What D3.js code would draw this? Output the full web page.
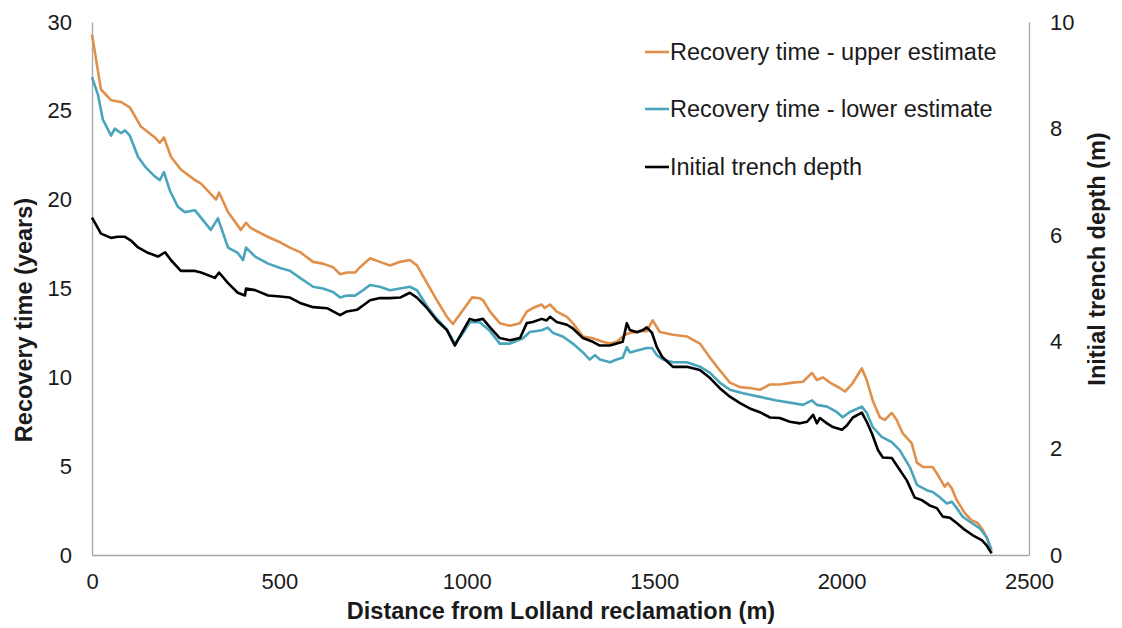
<!DOCTYPE html>
<html>
<head>
<meta charset="utf-8">
<script src="https://cdn.jsdelivr.net/npm/d3@7/dist/d3.min.js"></script>
<style>
  html, body { margin: 0; padding: 0; background: #ffffff; }
  svg { display: block; font-family: "Liberation Sans", Arial, sans-serif; }
</style>
</head>
<body>
<svg id="chart" width="1122" height="628"></svg>
<script>
// Distance along the trench (m) paired with recovery time (years)
const upperEstimate = [
  [0, 29.3], [24, 26.2], [51, 25.6], [77, 25.5], [101, 25.2], [131, 24.1], [168, 23.5], [181, 23.2],
  [192, 23.5], [211, 22.4], [237, 21.7], [275, 21.1], [291, 20.9], [331, 20.0], [339, 20.4], [363, 19.3],
  [397, 18.3], [411, 18.7], [424, 18.4], [470, 17.9], [502, 17.6], [528, 17.3], [555, 17.05], [590, 16.5],
  [616, 16.4], [643, 16.2], [662, 15.8], [680, 15.9], [702, 15.9], [715, 16.2], [742, 16.7], [768, 16.5],
  [795, 16.3], [822, 16.5], [848, 16.6], [867, 16.3], [894, 15.3], [920, 14.35], [947, 13.4], [963, 13.0],
  [987, 13.7], [1014, 14.5], [1035, 14.45], [1043, 14.35], [1062, 13.7], [1088, 13.05], [1115, 12.9],
  [1142, 13.05], [1160, 13.7], [1176, 13.9], [1200, 14.1], [1208, 13.9], [1222, 14.1], [1240, 13.7],
  [1267, 13.4], [1283, 13.05], [1310, 12.3], [1336, 12.2], [1363, 12.0], [1382, 11.9], [1400, 12.0],
  [1422, 12.4], [1435, 12.5], [1462, 12.6], [1480, 12.6], [1496, 13.2], [1515, 12.55], [1550, 12.4],
  [1587, 12.3], [1622, 11.9], [1649, 11.1], [1675, 10.4], [1702, 9.7], [1729, 9.45], [1755, 9.4],
  [1782, 9.3], [1809, 9.6], [1835, 9.6], [1870, 9.7], [1897, 9.75], [1921, 10.25], [1934, 9.85],
  [1950, 10.0], [1969, 9.7], [1995, 9.4], [2009, 9.2], [2027, 9.6], [2054, 10.5], [2067, 9.85],
  [2083, 8.7], [2102, 7.75], [2115, 7.6], [2134, 8.0], [2147, 7.6], [2163, 6.85], [2187, 6.3],
  [2201, 5.2], [2217, 4.95], [2243, 4.95], [2254, 4.6], [2275, 3.85], [2283, 4.05], [2294, 3.75],
  [2307, 3.1], [2329, 2.35], [2347, 1.95], [2363, 1.8], [2377, 1.4], [2390, 0.85], [2400, 0.15]
];

const lowerEstimate = [
  [0, 26.9], [16, 25.9], [29, 24.5], [51, 23.6], [61, 24.0], [77, 23.75], [88, 23.9], [101, 23.6],
  [123, 22.4], [144, 21.8], [168, 21.3], [181, 21.1], [192, 21.55], [208, 20.5], [229, 19.6], [248, 19.3],
  [275, 19.4], [296, 18.85], [317, 18.3], [336, 18.95], [363, 17.3], [389, 17.0], [403, 16.6], [411, 17.3],
  [435, 16.8], [470, 16.4], [502, 16.15], [528, 16.0], [555, 15.6], [590, 15.1], [616, 15.0], [643, 14.8],
  [662, 14.5], [680, 14.6], [702, 14.6], [723, 14.9], [742, 15.2], [768, 15.1], [795, 14.9], [822, 15.0],
  [848, 15.1], [867, 14.9], [894, 14.0], [920, 13.3], [947, 12.7], [968, 11.9], [987, 12.4], [1008, 13.1],
  [1035, 13.1], [1062, 12.6], [1088, 11.9], [1115, 11.9], [1150, 12.2], [1168, 12.55], [1200, 12.65],
  [1216, 12.8], [1230, 12.5], [1256, 12.3], [1283, 11.9], [1310, 11.4], [1328, 11.0], [1342, 11.25],
  [1355, 11.0], [1382, 10.85], [1400, 11.0], [1416, 11.1], [1427, 11.7], [1435, 11.4], [1462, 11.55],
  [1480, 11.65], [1494, 11.65], [1507, 11.25], [1523, 11.0], [1550, 10.85], [1587, 10.85], [1622, 10.6],
  [1649, 10.25], [1675, 9.7], [1702, 9.3], [1737, 9.1], [1782, 8.9], [1827, 8.7], [1870, 8.55],
  [1897, 8.45], [1921, 8.7], [1934, 8.45], [1961, 8.35], [1987, 8.05], [2003, 7.75], [2022, 8.05],
  [2054, 8.35], [2067, 8.0], [2083, 7.2], [2107, 6.65], [2134, 6.35], [2155, 5.9], [2182, 4.95],
  [2201, 3.95], [2227, 3.65], [2243, 3.55], [2262, 3.25], [2281, 2.9], [2294, 3.0], [2307, 2.65],
  [2323, 2.15], [2347, 1.8], [2369, 1.5], [2387, 1.0], [2400, 0.3]
];

// Distance along the trench (m) paired with initial trench depth (m)
const trenchDepth = [
  [0, 6.33], [24, 6.03], [51, 5.95], [69, 5.97], [88, 5.97], [104, 5.9], [123, 5.77], [149, 5.67],
  [176, 5.6], [195, 5.68], [211, 5.53], [237, 5.33], [275, 5.33], [291, 5.3], [328, 5.2], [339, 5.3],
  [363, 5.1], [389, 4.92], [408, 4.87], [411, 5.0], [435, 4.97], [470, 4.87], [502, 4.85], [528, 4.83],
  [555, 4.73], [590, 4.65], [627, 4.63], [662, 4.5], [680, 4.57], [707, 4.6], [723, 4.68], [742, 4.78],
  [768, 4.82], [795, 4.82], [822, 4.83], [848, 4.92], [867, 4.83], [894, 4.63], [920, 4.4], [947, 4.22],
  [968, 3.93], [987, 4.17], [1008, 4.43], [1022, 4.4], [1043, 4.43], [1062, 4.27], [1088, 4.07],
  [1115, 4.03], [1142, 4.07], [1160, 4.35], [1176, 4.37], [1200, 4.43], [1213, 4.4], [1222, 4.47],
  [1240, 4.37], [1267, 4.32], [1283, 4.25], [1310, 4.07], [1336, 4.0], [1355, 3.93], [1382, 3.93],
  [1400, 3.97], [1416, 4.0], [1427, 4.35], [1435, 4.22], [1454, 4.18], [1470, 4.22], [1480, 4.27],
  [1494, 4.17], [1507, 3.9], [1521, 3.72], [1550, 3.53], [1587, 3.53], [1622, 3.47], [1649, 3.32],
  [1675, 3.13], [1702, 2.97], [1729, 2.85], [1755, 2.75], [1782, 2.68], [1809, 2.58], [1835, 2.57],
  [1862, 2.5], [1889, 2.47], [1908, 2.5], [1924, 2.63], [1934, 2.47], [1942, 2.57], [1961, 2.47],
  [1977, 2.4], [2001, 2.35], [2014, 2.43], [2030, 2.58], [2054, 2.67], [2067, 2.5], [2081, 2.28],
  [2097, 1.97], [2110, 1.83], [2134, 1.82], [2150, 1.65], [2174, 1.4], [2195, 1.08], [2214, 1.03],
  [2235, 0.93], [2254, 0.88], [2270, 0.72], [2289, 0.7], [2307, 0.6], [2329, 0.47], [2350, 0.37],
  [2374, 0.28], [2387, 0.18], [2400, 0.03]
];

const xTicks = [0, 500, 1000, 1500, 2000, 2500];
const yearTicks = [0, 5, 10, 15, 20, 25, 30];
const depthTicks = [0, 2, 4, 6, 8, 10];

const seriesNames = [
  "Recovery time - upper estimate",
  "Recovery time - lower estimate",
  "Initial trench depth"
];
const seriesColors = ["#E0904A", "#4AA5BC", "#000000"];

const svg = d3.select("#chart");
const plot = { left: 92, right: 1029, top: 22, bottom: 555 };

const x = d3.scaleLinear().domain([0, 2500]).range([plot.left, plot.right]);
const yYears = d3.scaleLinear().domain([0, 30]).range([plot.bottom, plot.top]);
const yDepth = d3.scaleLinear().domain([0, 10]).range([plot.bottom, plot.top]);

const frameColor = "#A6A6A6";
const tickFont = 22;
const titleFont = 23.5;
const textColor = "#1a1a1a";

function styleAxis(g) {
  g.select(".domain").attr("stroke", frameColor).attr("stroke-width", 1.3);
  g.selectAll("text").attr("font-size", tickFont).attr("fill", textColor)
    .attr("font-family", "Liberation Sans, Arial, sans-serif");
}

// Axes: tick labels plus the frame line on each side
svg.append("g")
  .attr("transform", `translate(0,${plot.bottom})`)
  .call(d3.axisBottom(x).tickValues(xTicks).tickSize(0).tickPadding(18).tickFormat(d3.format("d")))
  .call(styleAxis);

svg.append("g")
  .attr("transform", `translate(${plot.left},0)`)
  .call(d3.axisLeft(yYears).tickValues(yearTicks).tickSize(0).tickPadding(20).tickFormat(d3.format("d")))
  .call(styleAxis);

svg.append("g")
  .attr("transform", `translate(${plot.right},0)`)
  .call(d3.axisRight(yDepth).tickValues(depthTicks).tickSize(0).tickPadding(21).tickFormat(d3.format("d")))
  .call(styleAxis);

// Data lines: upper, lower, then trench depth on top
const lineYears = d3.line().x(d => x(d[0])).y(d => yYears(d[1]));
const lineDepth = d3.line().x(d => x(d[0])).y(d => yDepth(d[1]));

const lineWidth = 2.6;
svg.append("path").datum(upperEstimate)
  .attr("fill", "none").attr("stroke", seriesColors[0]).attr("stroke-width", lineWidth)
  .attr("stroke-linejoin", "round").attr("d", lineYears);
svg.append("path").datum(lowerEstimate)
  .attr("fill", "none").attr("stroke", seriesColors[1]).attr("stroke-width", lineWidth)
  .attr("stroke-linejoin", "round").attr("d", lineYears);
svg.append("path").datum(trenchDepth)
  .attr("fill", "none").attr("stroke", seriesColors[2]).attr("stroke-width", lineWidth)
  .attr("stroke-linejoin", "round").attr("d", lineDepth);

// Axis titles
svg.append("text")
  .attr("x", 561).attr("y", 619)
  .attr("text-anchor", "middle").attr("font-size", titleFont).attr("font-weight", "bold").attr("fill", textColor)
  .text("Distance from Lolland reclamation (m)");

svg.append("text")
  .attr("transform", "translate(32,320) rotate(-90)")
  .attr("text-anchor", "middle").attr("font-size", titleFont).attr("font-weight", "bold").attr("fill", textColor)
  .text("Recovery time (years)");

svg.append("text")
  .attr("transform", "translate(1105,259) rotate(-90)")
  .attr("text-anchor", "middle").attr("font-size", titleFont).attr("font-weight", "bold").attr("fill", textColor)
  .text("Initial trench depth (m)");

// Legend
const legendRows = [52, 109, 167];
const legend = svg.append("g");
seriesNames.forEach((name, i) => {
  legend.append("line")
    .attr("x1", 645).attr("x2", 669)
    .attr("y1", legendRows[i]).attr("y2", legendRows[i])
    .attr("stroke", seriesColors[i]).attr("stroke-width", lineWidth);
  legend.append("text")
    .attr("x", 670).attr("y", legendRows[i]).attr("dy", "0.35em")
    .attr("font-size", titleFont).attr("fill", textColor)
    .text(name);
});
</script>
</body>
</html>
